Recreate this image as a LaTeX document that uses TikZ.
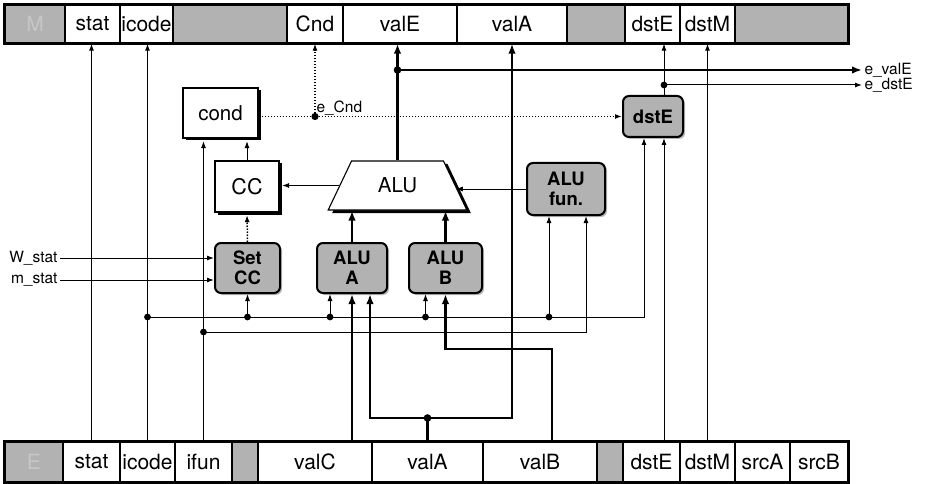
\documentclass[tikz,border=0pt]{standalone}
\usepackage{fontspec}
\setsansfont{TeX Gyre Heros}
\usetikzlibrary{positioning, arrows.meta, shapes.geometric, shadows}

\begin{document}
\begin{tikzpicture}[x=1pt, y=-1pt, font=\sffamily, line width=1pt,
    >={Latex[length=7pt, width=5pt]},
    cell/.style={draw, line width=1.3pt, fill=white, inner sep=0pt, font=\sffamily\fontsize{21}{23}\selectfont},
    pad/.style={cell, fill=black!30, text=black!22},
    plain/.style={draw, line width=1.1pt, fill=white, inner sep=0pt, font=\sffamily\fontsize{20.5}{22}\selectfont,
      drop shadow={shadow xshift=2.5pt, shadow yshift=-2.5pt, fill=black, opacity=1}},
    logic/.style={draw, line width=2pt, rounded corners=6pt, fill=black!30, align=center, inner sep=0pt,
      font=\sffamily\bfseries\fontsize{18.5}{19.5}\selectfont,
      drop shadow={shadow xshift=2pt, shadow yshift=-2pt, fill=black!40, opacity=0.7}},
    wire/.style={->},
    ctrl/.style={->, line width=1.5pt, dash pattern=on 1.5pt off 1.5pt},
    bus/.style={line width=2.8pt, -{Latex[length=10pt, width=7.5pt]}},
    signal/.style={font=\sffamily\fontsize{15.5}{17}\selectfont, inner sep=2pt}
  ]
  \useasboundingbox (0,0) rectangle (929,484);

  % pipeline registers
  \foreach \n/\l/\r/\t in {stat/65/120/stat, icode/120/173/icode, Cnd/287/343/Cnd, valE/343/457/valE,
      valA/457/567/valA, dstE/625/680/dstE, dstM/680/735/dstM} {
    \pgfmathsetmacro\w{\r-\l}
    \node[cell, minimum width=\w pt, minimum height=38pt] (m\n) at ({(\l+\r)/2},24) {\t};
  }
  \foreach \l/\r/\t in {5/65/M, 173/287/{}, 567/625/{}, 735/848/{}} {
    \pgfmathsetmacro\w{\r-\l}
    \node[pad, minimum width=\w pt, minimum height=38pt] (mpad\l) at ({(\l+\r)/2},24) {\t};
  }
  \draw[line width=2.2pt] (mpad5.north west) rectangle (mpad735.south east);

  \foreach \n/\l/\r/\t in {stat/63/120/stat, icode/120/175/icode, ifun/175/232/ifun, valC/258/372/valC,
      valA/372/483/valA, valB/483/597/valB, dstE/623/680/dstE, dstM/680/735/dstM,
      srcA/735/790/srcA, srcB/790/848/srcB} {
    \pgfmathsetmacro\w{\r-\l}
    \node[cell, minimum width=\w pt, minimum height=40pt] (e\n) at ({(\l+\r)/2},462) {\t};
  }
  \foreach \l/\r/\t in {5/63/E, 232/258/{}, 597/623/{}} {
    \pgfmathsetmacro\w{\r-\l}
    \node[pad, minimum width=\w pt, minimum height=40pt] (epad\l) at ({(\l+\r)/2},462) {\t};
  }
  \draw[line width=2.2pt] (epad5.north west) rectangle (esrcB.south east);

  % execute logic
  \node[plain, minimum width=75pt, minimum height=50pt] (cond) at (220.5,113) {cond};
  \node[plain, minimum width=64pt, minimum height=51pt, font=\sffamily\fontsize{21.5}{23}\selectfont] (cc) at (247,186.5) {CC};
  \node[trapezium, trapezium angle=57, trapezium stretches=true, minimum width=139pt, minimum height=49pt,
    draw, line width=1.1pt, fill=white, inner sep=0pt, font=\sffamily\fontsize{20.5}{22}\selectfont,
    drop shadow={shadow xshift=4pt, shadow yshift=-3pt, fill=black, opacity=1}] (alu) at (397.5,185.5) {ALU};
  \node[logic, minimum width=65pt, minimum height=50pt] (setcc) at (247.5,268) {Set\\CC};
  \node[logic, minimum width=70pt, minimum height=50pt] (alua) at (352,268) {ALU\\A};
  \node[logic, minimum width=73pt, minimum height=50pt] (alub) at (445.5,268) {ALU\\B};
  \node[logic, minimum width=78pt, minimum height=52pt] (alufun) at (566,189) {ALU\\fun.};
  \node[logic, minimum width=60pt, minimum height=41pt] (dste) at (653,116.5) {dstE};

  % signals passed straight through
  \draw[wire] (estat.north) -- (estat.north |- mstat.south);
  \draw[wire] (eicode.north) -- (eicode.north |- micode.south);
  \draw[wire, shorten >=2.5pt] (eifun.north) -- (eifun.north |- cond.south);
  \draw[wire] (edstM.north) -- (edstM.north |- mdstM.south);

  % icode and ifun buses
  \coordinate (busI) at (eicode.north |- 0,317);
  \coordinate (busF) at (eifun.north |- 0,332);
  \draw[wire] (busI) -| ([xshift=-9pt]dste.south);
  \draw[wire] (busF) -| ([xshift=20pt]alufun.south);
  \foreach \t/\dx in {setcc/0, alua/-22, alub/-20, alufun/-17} {
    \draw[wire] ([xshift=\dx pt]\t.south |- busI) -- ([xshift=\dx pt]\t.south);
    \fill ([xshift=\dx pt]\t.south |- busI) circle (3.4pt);
  }
  \fill (busI) circle (3.4pt);
  \fill (busF) circle (3.4pt);

  \node[signal, anchor=east] (wstatin) at (60,258) {W\_stat};
  \node[signal, anchor=east] (mstatin) at (60,280) {m\_stat};
  \draw[wire] (wstatin.east) -- (wstatin.east -| setcc.west);
  \draw[wire] (mstatin.east) -- (mstatin.east -| setcc.west);

  \draw[ctrl, shorten >=2.5pt] (setcc.north) -- (cc.south);
  \draw[wire, shorten >=2.5pt] (cc.north) -- (cc.north |- cond.south);
  \draw[wire, shorten >=2.5pt] (alu.left side) -- (alu.left side -| cc.east);
  \draw[wire] (alufun.west) -- (alufun.west -| alu.right side);

  % data paths
  \draw[bus] (evalC.north -| alua.south) -- (alua.south);
  \coordinate (busA) at (evalA.north |- 0,418);
  \draw[line width=2.8pt] (evalA.north) -- (busA);
  \draw[bus] (busA) -| ([xshift=18pt]alua.south);
  \draw[bus] (busA) -| (mvalA.south);
  \fill (busA) circle (3.8pt);
  \draw[bus] ([xshift=12pt]evalB.north) |- (alub.south |- 0,349) -- (alub.south);
  \draw[bus] (alua.north) -- (alua.north |- alu.south);
  \draw[bus] (alub.north) -- (alub.north |- alu.south);

  \draw[bus] (alu.north) -- (alu.north |- mvalE.south);
  \coordinate (valEJ) at (alu.north |- 0,70);
  \node[signal, anchor=west] (valEout) at (862,70) {e\_valE};
  \draw[bus] (valEJ) -- (valEout.west);
  \fill (valEJ) circle (3.8pt);

  % destination register and condition
  \coordinate (dstEx) at (664,0);
  \coordinate (dstEJ) at (dstEx |- 0,85);
  \draw[wire] (edstE.north -| dstEx) -- (dste.south -| dstEx);
  \draw[wire] (dste.north -| dstEx) -- (mdstE.south -| dstEx);
  \node[signal, anchor=west] (dstEout) at (862,85) {e\_dstE};
  \draw[wire] (dstEJ) -- (dstEout.west);
  \fill (dstEJ) circle (3.4pt);

  \coordinate (cndJ) at (mCnd.south |- dste.west);
  \draw[ctrl, shorten <=3pt] (cond.east |- dste.west) -- (dste.west);
  \draw[ctrl] (cndJ) -- (mCnd.south);
  \fill (cndJ) circle (3.6pt);
  \node[signal, anchor=south west, inner sep=1pt] (cndlbl) at (cndJ) {e\_Cnd};
\end{tikzpicture}
\end{document}
